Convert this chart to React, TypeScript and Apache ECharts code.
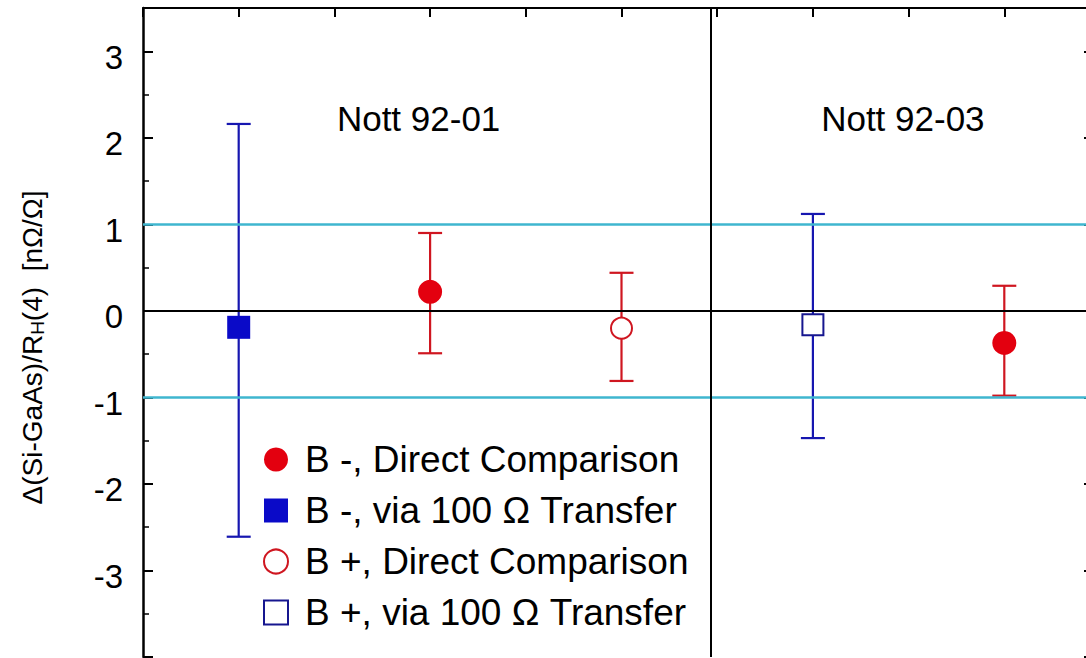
import React, { useEffect, useRef } from "react";
import * as echarts from "echarts";

// Sample positions along the horizontal axis and measured deviations (nΩ/Ω)
const bMinusDirectX = [3, 9];
const bMinusDirectY = [0.22, -0.37];
const bMinusDirectLow = [-0.49, -0.98];
const bMinusDirectHigh = [0.9, 0.29];

const bMinusTransferX = [1];
const bMinusTransferY = [-0.19];
const bMinusTransferLow = [-2.61];
const bMinusTransferHigh = [2.16];

const bPlusDirectX = [5];
const bPlusDirectY = [-0.2];
const bPlusDirectLow = [-0.81];
const bPlusDirectHigh = [0.44];

const bPlusTransferX = [7];
const bPlusTransferY = [-0.16];
const bPlusTransferLow = [-1.47];
const bPlusTransferHigh = [1.12];

const seriesNames = [
  "B -, Direct Comparison",
  "B -, via 100 Ω Transfer",
  "B +, Direct Comparison",
  "B +, via 100 Ω Transfer",
];

const sampleNames = ["Nott 92-01", "Nott 92-03"];
const sampleLabelX = [2.88, 7.94];
const sampleLabelY = [2.22, 2.22];

const limitLines = [1, -1];
const sampleBoundaryX = 5.93;

const xMin = 0;
const xMax = 10;
const yMin = -4;
const yMax = 3.5;
const yLabelMin = -3;
const yLabelMax = 3;

const FONT = '"Liberation Sans", Arial, Helvetica, sans-serif';

const RED = "#e3000f";
const RED_BAR = "#cf1620";
const BLUE = "#0a0ac8";
const BLUE_BAR = "#1616b0";
const NAVY = "#16168f";
const CYAN = "#3fb6cf";

const points = (xs: number[], ys: number[]) => xs.map((x, i) => [x, ys[i]]);
const bars = (xs: number[], lo: number[], hi: number[]) =>
  xs.map((x, i) => [x, lo[i], hi[i]]);

function errorBars(name: string, data: number[][], color: string) {
  return {
    type: "custom",
    name: name + " err",
    xAxisIndex: 0,
    yAxisIndex: 0,
    z: 3,
    silent: true,
    data,
    renderItem: (_params: any, api: any) => {
      const x = api.value(0);
      const lo = api.coord([x, api.value(1)]);
      const hi = api.coord([x, api.value(2)]);
      const half = 12;
      const style = { stroke: color, lineWidth: 2.2 };
      return {
        type: "group",
        children: [
          { type: "line", shape: { x1: lo[0], y1: lo[1], x2: hi[0], y2: hi[1] }, style },
          { type: "line", shape: { x1: hi[0] - half, y1: hi[1], x2: hi[0] + half, y2: hi[1] }, style },
          { type: "line", shape: { x1: lo[0] - half, y1: lo[1], x2: lo[0] + half, y2: lo[1] }, style },
        ],
      };
    },
  };
}

export default function App() {
  const ref = useRef<HTMLDivElement>(null);

  useEffect(() => {
    if (!ref.current) return;
    const chart = echarts.init(ref.current, null, { renderer: "svg" });

    const option: any = {
      animation: false,
      backgroundColor: "#ffffff",
      grid: {
        left: 143,
        top: 8,
        width: 957,
        height: 649,
        containLabel: false,
        outerBoundsMode: "none",
      },
      legend: {
        data: seriesNames,
        orient: "vertical",
        left: 258,
        top: 436,
        padding: 5,
        itemWidth: 24,
        itemHeight: 24,
        itemGap: 14,
        selectedMode: false,
        textStyle: {
          fontFamily: FONT,
          fontSize: 37,
          color: "#000",
          padding: [0, 0, 0, 12],
        },
      },
      xAxis: [
        {
          type: "value",
          min: xMin,
          max: xMax,
          position: "bottom",
          axisLine: { show: false },
          axisTick: { show: false },
          axisLabel: { show: false },
          splitLine: { show: false },
        },
        {
          type: "value",
          min: xMin,
          max: xMax,
          interval: 1,
          position: "top",
          axisLine: { show: true, onZero: false, lineStyle: { color: "#000", width: 2 } },
          axisTick: { show: true, inside: true, length: 9, lineStyle: { color: "#000", width: 2 } },
          axisLabel: { show: false },
          splitLine: { show: false },
        },
      ],
      yAxis: [
        {
          type: "value",
          min: yMin,
          max: yMax,
          interval: 1,
          position: "left",
          name: "{t|Δ(Si-GaAs)/R}{s|H}{t|(4)  [nΩ/Ω]}",
          nameLocation: "middle",
          nameGap: 96,
          nameTextStyle: {
            padding: [0, 30, 0, 0],
            rich: {
              t: { fontFamily: FONT, fontSize: 28, color: "#000", lineHeight: 30 },
              s: { fontFamily: FONT, fontSize: 19, color: "#000", lineHeight: 20, verticalAlign: "bottom" },
            },
          },
          axisLine: { show: true, onZero: false, lineStyle: { color: "#000", width: 2.5 } },
          axisTick: { show: true, inside: true, length: 10, lineStyle: { color: "#000", width: 2 } },
          minorTick: { show: true, splitNumber: 2, length: 6, lineStyle: { color: "#000", width: 1.5 } },
          axisLabel: {
            show: true,
            margin: 20,
            fontFamily: FONT,
            fontSize: 33,
            color: "#000",
            verticalAlign: "top",
            lineHeight: 12,
            formatter: (v: number) =>
              v >= yLabelMin && v <= yLabelMax && Number.isInteger(v) ? String(v) : "",
          },
          splitLine: { show: false },
        },
        {
          type: "value",
          min: yMin,
          max: yMax,
          interval: 1,
          position: "right",
          axisLine: { show: true, onZero: false, lineStyle: { color: "#000", width: 2 } },
          axisTick: { show: true, inside: true, length: 16, lineStyle: { color: "#000", width: 2 } },
          axisLabel: { show: false },
          splitLine: { show: false },
        },
      ],
      series: [
        {
          type: "line",
          name: "reference lines",
          data: [],
          silent: true,
          z: 2,
          markLine: {
            silent: true,
            symbol: "none",
            label: { show: false },
            animation: false,
            data: [
              { yAxis: 0, lineStyle: { color: "#000", width: 2, type: "solid" } },
              ...limitLines.map((v) => ({ yAxis: v, lineStyle: { color: CYAN, width: 2.5, type: "solid" } })),
              { xAxis: sampleBoundaryX, lineStyle: { color: "#000", width: 2, type: "solid" } },
            ],
          },
        },
        errorBars(seriesNames[0], bars(bMinusDirectX, bMinusDirectLow, bMinusDirectHigh), RED_BAR),
        errorBars(seriesNames[1], bars(bMinusTransferX, bMinusTransferLow, bMinusTransferHigh), BLUE_BAR),
        errorBars(seriesNames[2], bars(bPlusDirectX, bPlusDirectLow, bPlusDirectHigh), RED_BAR),
        errorBars(seriesNames[3], bars(bPlusTransferX, bPlusTransferLow, bPlusTransferHigh), BLUE_BAR),
        {
          type: "scatter",
          name: seriesNames[0],
          symbol: "circle",
          symbolSize: 24,
          z: 5,
          itemStyle: { color: RED, opacity: 1 },
          data: points(bMinusDirectX, bMinusDirectY),
        },
        {
          type: "scatter",
          name: seriesNames[1],
          symbol: "rect",
          symbolSize: 23,
          z: 5,
          itemStyle: { color: BLUE, opacity: 1 },
          data: points(bMinusTransferX, bMinusTransferY),
        },
        {
          type: "scatter",
          name: seriesNames[2],
          symbol: "circle",
          symbolSize: 21,
          z: 5,
          itemStyle: { color: "#fff", borderColor: RED_BAR, borderWidth: 2, opacity: 1 },
          data: points(bPlusDirectX, bPlusDirectY),
        },
        {
          type: "scatter",
          name: seriesNames[3],
          symbol: "rect",
          symbolSize: 21,
          z: 5,
          itemStyle: { color: "#fff", borderColor: NAVY, borderWidth: 2, opacity: 1 },
          data: points(bPlusTransferX, bPlusTransferY),
        },
        {
          // sample identifiers written inside each panel
          type: "custom",
          name: "sample names",
          silent: true,
          z: 6,
          data: sampleNames.map((n, i) => [sampleLabelX[i], sampleLabelY[i], i]),
          renderItem: (_params: any, api: any) => {
            const p = api.coord([api.value(0), api.value(1)]);
            return {
              type: "text",
              x: p[0],
              y: p[1],
              style: {
                text: sampleNames[api.value(2)],
                fontFamily: FONT,
                fontSize: 35,
                fill: "#000",
                align: "center",
                verticalAlign: "middle",
              },
            };
          },
        },
      ],
    };

    chart.setOption(option);
    return () => chart.dispose();
  }, []);

  return (
    <div
      style={{
        position: "fixed",
        left: 0,
        top: 0,
        width: 1086,
        height: 658,
        overflow: "hidden",
        background: "#fff",
      }}
    >
      <div ref={ref} style={{ width: 1110, height: 658 }} />
    </div>
  );
}
